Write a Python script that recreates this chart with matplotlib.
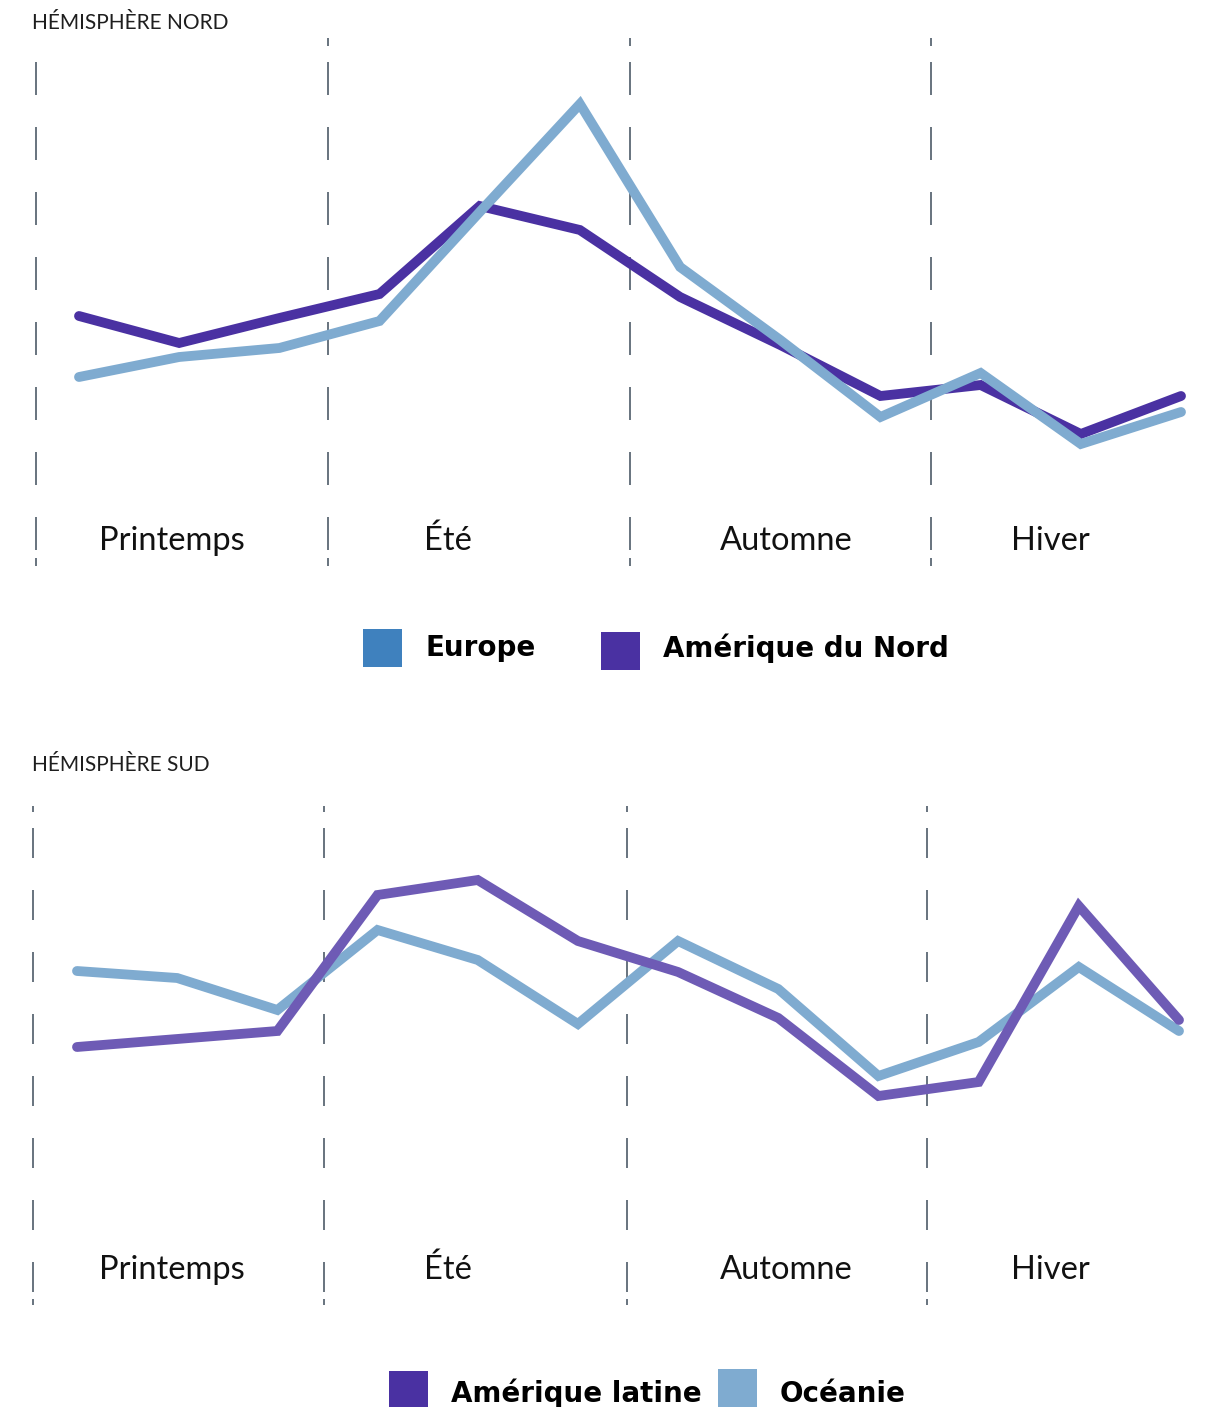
import matplotlib
matplotlib.use("Agg")
import matplotlib.pyplot as plt
from matplotlib.patches import Rectangle

plt.rcParams['font.family'] = ['Lato', 'DejaVu Sans']
plt.rcParams['lines.scale_dashes'] = False

W, H = 1220, 1407
DPI = 100

# ---------------- data ----------------
points = list(range(12))
seasons = ["Printemps", "Été", "Automne", "Hiver"]

nord_title = "HÉMISPHÈRE NORD"
sud_title = "HÉMISPHÈRE SUD"

europe = [12.3, 14.3, 15.2, 17.9, 28.8, 39.6, 23.3, 16.0, 8.3, 12.7, 5.6, 8.8]
amerique_nord = [18.4, 15.7, 18.2, 20.6, 29.4, 27.0, 20.3, 15.5, 10.4, 11.5, 6.6, 10.4]

amerique_latine = [20.3, 21.1, 21.9, 35.5, 37.0, 30.9, 27.8, 23.2, 15.4, 16.8, 34.4, 23.0]
oceanie = [27.9, 27.2, 24.0, 32.0, 29.0, 22.6, 30.9, 26.1, 17.4, 20.8, 28.3, 21.9]

# ---------------- style ----------------
C_EUROPE_LINE = "#7FABD0"
C_EUROPE_LEG = "#3F81BE"
C_NA = "#4A31A2"
C_LATINE = "#6E5BB5"
C_LATINE_LEG = "#4A31A2"
C_OCEANIE = "#7FABD0"
C_DASH = "#3E4D5B"
LW = 9.8 * 0.72
LEG_FONT = ['DejaVu Sans']
TITLE_FONT = ['Lato', 'DejaVu Sans']


def fx(px):
    return px / W


def fy(py):
    return 1 - py / H


fig = plt.figure(figsize=(W / DPI, H / DPI), dpi=DPI)
fig.patch.set_facecolor("white")

spacing = (1181 - 79) / 11.0

# ---------- top panel ----------
ax1 = fig.add_axes([0, 1 - 700 / H, 1, 700 / H])
ax1.set_xlim(-79 / spacing, (W - 79) / spacing)
ax1.set_ylim(-20, 50)
ax1.axis("off")

top_bounds = [-0.429, 2.486, 5.500, 8.505]
for i, b in enumerate(top_bounds):
    if i == 0:
        seq = [33, 32] * 7 + [33, 8, 8]
        y0 = (500 - 62) / 10
    else:
        seq = [8, 16] + [33, 32] * 7 + [33, 8, 8]
        y0 = (500 - 38) / 10
    ax1.plot([b, b], [y0, (500 - 567) / 10], color=C_DASH, lw=1.1,
             linestyle=(0, tuple(s * 0.72 for s in seq)), solid_capstyle="butt")

ax1.plot(points, amerique_nord, color=C_NA, lw=LW, solid_capstyle="round",
         solid_joinstyle="miter")
ax1.plot(points, europe, color=C_EUROPE_LINE, lw=LW, solid_capstyle="round",
         solid_joinstyle="miter")

# ---------- bottom panel ----------
spacing2 = (1179 - 77) / 11.0
ax2 = fig.add_axes([0, 0, 1, 707 / H])
ax2.set_xlim(-77 / spacing2, (W - 77) / spacing2)
ax2.set_ylim((1250 - 1407) / 10, (1250 - 700) / 10)
ax2.axis("off")

bot_bounds = [-0.439, 2.466, 5.490, 8.485]
for b in bot_bounds:
    seq = [6, 16] + [30, 32] * 7 + [30, 7, 6]
    ax2.plot([b, b], [(1250 - 806) / 10, (1250 - 1305) / 10], color=C_DASH, lw=1.1,
             linestyle=(0, tuple(s * 0.72 for s in seq)), solid_capstyle="butt")

ax2.plot(points, oceanie, color=C_OCEANIE, lw=LW, solid_capstyle="round",
         solid_joinstyle="miter")
ax2.plot(points, amerique_latine, color=C_LATINE, lw=LW, solid_capstyle="round",
         solid_joinstyle="miter")

# ---------- titles ----------
fig.text(fx(32), fy(29), nord_title, fontsize=15, color="#1E1E1E",
         ha="left", va="baseline", family=TITLE_FONT)
fig.text(fx(32), fy(771), sud_title, fontsize=15, color="#1E1E1E",
         ha="left", va="baseline", family=TITLE_FONT)

# ---------- season labels ----------
season_x = [171.5, 448, 786, 1050]
for sx, s in zip(season_x, seasons):
    fig.text(fx(sx), fy(550), s, fontsize=23.5, color="#111111",
             ha="center", va="baseline")
    fig.text(fx(sx), fy(1279), s, fontsize=23.5, color="#111111",
             ha="center", va="baseline")


# ---------- legends ----------
def legend_item(x0, y0, color, label, tx, ty):
    fig.patches.append(Rectangle((fx(x0), fy(y0 + 38)), 39 / W, 38 / H,
                                 transform=fig.transFigure, facecolor=color,
                                 edgecolor="none", figure=fig))
    fig.text(fx(tx), fy(ty), label, fontsize=20, fontweight="bold",
             color="black", ha="left", va="baseline", family=LEG_FONT)


legend_item(363, 629, C_EUROPE_LEG, "Europe", 425, 656)
legend_item(601, 632, C_NA, "Amérique du Nord", 663, 657)
legend_item(389, 1371, C_LATINE_LEG, "Amérique latine", 451, 1402)
legend_item(718, 1369, C_OCEANIE, "Océanie", 780, 1402)

fig.savefig("out.png", dpi=DPI, facecolor="white")
